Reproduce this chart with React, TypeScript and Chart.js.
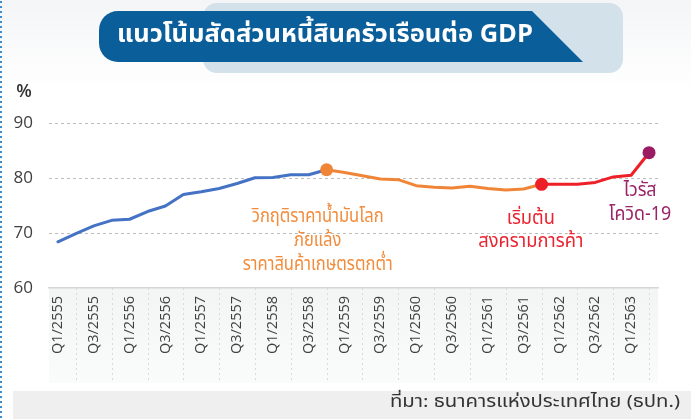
import React, { useEffect, useRef } from "react";
import { Chart, registerables } from "chart.js";

Chart.register(...registerables);

const quarters = [
  "Q1/2555", "Q2/2555", "Q3/2555", "Q4/2555",
  "Q1/2556", "Q2/2556", "Q3/2556", "Q4/2556",
  "Q1/2557", "Q2/2557", "Q3/2557", "Q4/2557",
  "Q1/2558", "Q2/2558", "Q3/2558", "Q4/2558",
  "Q1/2559", "Q2/2559", "Q3/2559", "Q4/2559",
  "Q1/2560", "Q2/2560", "Q3/2560", "Q4/2560",
  "Q1/2561", "Q2/2561", "Q3/2561", "Q4/2561",
  "Q1/2562", "Q2/2562", "Q3/2562", "Q4/2562",
  "Q1/2563", "Q2/2563",
];

const debtToGdp = [
  68.4, 69.9, 71.3, 72.3, 72.5, 73.9, 74.9, 77.0,
  77.5, 78.1, 79.0, 80.05, 80.1, 80.6, 80.6, 81.5,
  81.0, 80.4, 79.8, 79.7, 78.6, 78.3, 78.2, 78.5,
  78.1, 77.8, 78.0, 78.85,
  78.85, 78.85, 79.2, 80.2, 80.5, 84.6,
];

const yTicks = [60, 70, 80, 90];

// phase boundaries (index where a new colour starts) and markers
const phaseStarts = [0, 15, 27];
const phaseColors = ["#4472C4", "#F08538", "#EE2027"];
const markerIndices = [15, 27, 33];
const markerColors = ["#F08538", "#EE2027", "#9B1C62"];

const orangeNote = ["วิกฤติราคาน้ำมันโลก", "ภัยแล้ง", "ราคาสินค้าเกษตรตกต่ำ"];
const redNote = ["เริ่มต้น", "สงครามการค้า"];
const purpleNote = ["ไวรัส", "โควิด-19"];

// anchors in data space: [category index, value]
const orangeAnchor = [14.5, 72.75];
const redAnchor = [26.4, 72.4];
const purpleAnchor = [32.5, 77.5];

const titleText = "แนวโน้มสัดส่วนหนี้สินครัวเรือนต่อ GDP";
const sourceText = "ที่มา: ธนาคารแห่งประเทศไทย (ธปท.)";

const THAI = '"Noto Sans Thai", "Noto Sans", "DejaVu Sans", sans-serif';
const LATIN = '"Open Sans", "Noto Sans", sans-serif';

function fitText(
  ctx: CanvasRenderingContext2D,
  text: string,
  x: number,
  y: number,
  k: number,
  font: string,
  color: string,
  align: CanvasTextAlign
) {
  ctx.save();
  ctx.font = font;
  ctx.translate(x, y);
  ctx.scale(k, 1);
  ctx.textAlign = align;
  ctx.textBaseline = "middle";
  ctx.fillStyle = color;
  ctx.fillText(text, 0, 0);
  ctx.restore();
}

function scaleFor(ctx: CanvasRenderingContext2D, text: string, font: string, w: number) {
  ctx.save();
  ctx.font = font;
  const m = ctx.measureText(text).width;
  ctx.restore();
  return m > 0 ? w / m : 1;
}

function phaseColor(i: number) {
  let c = phaseColors[0];
  for (let p = 0; p < phaseStarts.length; p++) if (i >= phaseStarts[p]) c = phaseColors[p];
  return c;
}

const decorPlugin = {
  id: "decor",
  beforeDraw(chart: any) {
    const { ctx, chartArea, scales } = chart;
    const x = scales.x;
    ctx.save();
    ctx.fillStyle = "#ffffff";
    ctx.fillRect(0, 0, chart.width, chart.height);
    const g = ctx.createLinearGradient(0, 0, 0, 90);
    g.addColorStop(0, "#f4f5f7");
    g.addColorStop(1, "#ffffff");
    ctx.fillStyle = g;
    ctx.fillRect(0, 0, chart.width, 90);

    // label area background
    const lb = ctx.createLinearGradient(0, chartArea.bottom, 0, 383);
    lb.addColorStop(0, "#f3f4f4");
    lb.addColorStop(1, "#fafbfb");
    ctx.fillStyle = lb;
    ctx.fillRect(chartArea.left, chartArea.bottom, chartArea.right - chartArea.left, 383 - chartArea.bottom);

    // dashed separators under the axis
    ctx.strokeStyle = "#dadada";
    ctx.lineWidth = 1;
    ctx.setLineDash([2, 3]);
    for (let i = 1; i < quarters.length; i += 2) {
      const px = Math.round(x.getPixelForValue(i)) + 0.5;
      ctx.beginPath();
      ctx.moveTo(px, chartArea.bottom);
      ctx.lineTo(px, 383);
      ctx.stroke();
    }
    ctx.setLineDash([]);

    // footer band
    ctx.fillStyle = "#efefef";
    ctx.fillRect(13, 391, chart.width - 13, chart.height - 391);

    // left dotted border
    ctx.fillStyle = "#3a8ccf";
    for (let yy = 1; yy < chart.height; yy += 5) {
      ctx.fillRect(0, yy, 2, 2);
    }

    // title box
    ctx.fillStyle = "#d3e1eb";
    ctx.beginPath();
    (ctx as any).roundRect(203, 3, 420, 70, 14);
    ctx.fill();

    // title banner
    const r = 19;
    ctx.fillStyle = "#0a5e9a";
    ctx.beginPath();
    ctx.moveTo(99 + r, 11);
    ctx.lineTo(532, 11);
    ctx.lineTo(583, 62);
    ctx.lineTo(99 + r, 62);
    ctx.arcTo(99, 62, 99, 62 - r, r);
    ctx.lineTo(99, 11 + r);
    ctx.arcTo(99, 11, 99 + r, 11, r);
    ctx.closePath();
    ctx.fill();
    ctx.restore();

    const tf = `bold 25px ${THAI}`;
    fitText(ctx, titleText, 117, 37, scaleFor(ctx, titleText, tf, 416), tf, "#ffffff", "left");

    const ff = `17px ${THAI}`;
    fitText(ctx, sourceText, 680, 404, scaleFor(ctx, sourceText, ff, 290), ff, "#333333", "right");

    // % unit
    ctx.save();
    ctx.font = `600 18px ${LATIN}`;
    ctx.fillStyle = "#333333";
    ctx.textAlign = "center";
    ctx.textBaseline = "middle";
    ctx.fillText("%", 24, 92);
    ctx.restore();
  },
  afterDraw(chart: any) {
    const { ctx, scales } = chart;
    const x = scales.x;
    const y = scales.y;
    const nf = `19px ${THAI}`;
    const blocks: [string[], number[], string, number, number][] = [
      [orangeNote, orangeAnchor, "#F28C3C", 150, 24],
      [redNote, redAnchor, "#E92430", 105, 23],
      [purpleNote, purpleAnchor, "#9A2466", 62, 24],
    ];
    blocks.forEach(([lines, anchor, color, w, lh]) => {
      ctx.font = nf;
      const widest = lines.reduce(
        (a, b) => (ctx.measureText(b).width > ctx.measureText(a).width ? b : a),
        lines[0]
      );
      const k = scaleFor(ctx, widest, nf, w);
      const cx = x.getPixelForValue(anchor[0]);
      const cy = y.getPixelForValue(anchor[1]);
      lines.forEach((t, i) => fitText(ctx, t, cx, cy + i * lh, k, nf, color, "center"));
    });
  },
};

export default function App() {
  const ref = useRef<HTMLCanvasElement | null>(null);

  useEffect(() => {
    const canvas = ref.current;
    if (!canvas) return;
    const chart = new Chart(canvas, {
      type: "line",
      data: {
        labels: quarters,
        datasets: [
          {
            data: debtToGdp,
            borderWidth: 3,
            tension: 0,
            borderJoinStyle: "round",
            borderCapStyle: "round",
            segment: {
              borderColor: (c: any) => phaseColor(c.p0DataIndex),
            },
            borderColor: phaseColors[0],
            pointRadius: (c: any) => (markerIndices.includes(c.dataIndex) ? 6.5 : 0),
            pointHoverRadius: 0,
            pointBorderWidth: 0,
            pointBackgroundColor: (c: any) => {
              const m = markerIndices.indexOf(c.dataIndex);
              return m >= 0 ? markerColors[m] : "transparent";
            },
            clip: false as any,
          },
        ],
      },
      options: {
        animation: false,
        responsive: false,
        devicePixelRatio: 1,
        layout: { padding: { top: 123, right: 33, left: 0, bottom: 0 } },
        plugins: {
          legend: { display: false },
          tooltip: { enabled: false },
          title: { display: false },
        },
        scales: {
          x: {
            type: "category",
            offset: true,
            grid: { display: false, drawTicks: false },
            border: { display: true, color: "#d6d6d6", width: 1.5 },
            ticks: {
              autoSkip: false,
              maxRotation: 90,
              minRotation: 90,
              padding: 8,
              color: "#404040",
              font: { family: LATIN, size: 14.5 },
              callback: (_v: any, i: number) => (i % 2 === 0 ? quarters[i] : ""),
            },
            afterFit: (s: any) => {
              s.height = 131;
            },
          },
          y: {
            min: 60,
            max: 90,
            afterBuildTicks: (s: any) => {
              s.ticks = yTicks.map((v) => ({ value: v }));
            },
            grid: {
              drawTicks: false,
              color: (c: any) => (c.tick && c.tick.value === 60 ? "rgba(0,0,0,0)" : "#bdbdbd"),
              lineWidth: 1,
            },
            border: { display: false, dash: [3, 3] },
            ticks: {
              padding: 16,
              color: "#404040",
              font: { family: LATIN, size: 17 },
            },
            afterFit: (s: any) => {
              s.width = 49;
            },
          },
        },
      },
      plugins: [decorPlugin],
    } as any);
    return () => chart.destroy();
  }, []);

  return (
    <div
      style={{
        position: "fixed",
        left: 0,
        top: 0,
        width: 691,
        height: 419,
        background: "#ffffff",
      }}
    >
      <canvas ref={ref} width={691} height={419} style={{ display: "block", width: 691, height: 419 }} />
    </div>
  );
}
